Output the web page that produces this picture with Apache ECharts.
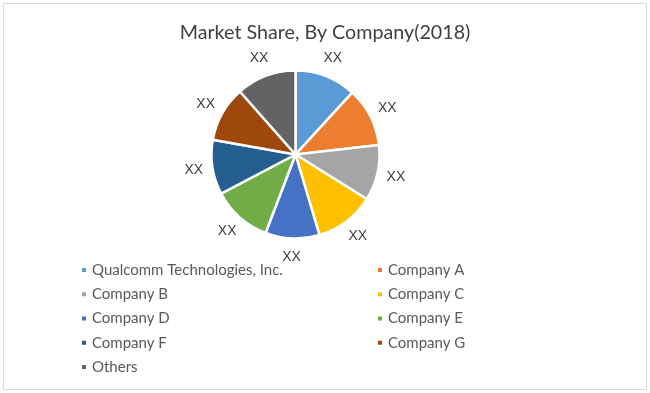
<!DOCTYPE html>
<html>
<head>
<meta charset="utf-8">
<script src="https://cdn.jsdelivr.net/npm/echarts@6/dist/echarts.min.js"></script>
<style>
  html, body { margin: 0; padding: 0; background: #fff; }
  #chart { width: 650px; height: 393px; }
</style>
</head>
<body>
<div id="chart"></div>
<script>
const titleText = 'Market Share, By Company(2018)';
const categories = ['Qualcomm Technologies, Inc.', 'Company A', 'Company B', 'Company C', 'Company D', 'Company E', 'Company F', 'Company G', 'Others'];
const shares = [11.8, 11.4, 10.7, 11.5, 10.4, 11.5, 10.5, 10.7, 11.5];
const labels = ['XX', 'XX', 'XX', 'XX', 'XX', 'XX', 'XX', 'XX', 'XX'];
const colors = ['#5B9BD5', '#ED7D31', '#A5A5A5', '#FFC000', '#4472C4', '#70AD47', '#255E91', '#9E480E', '#636363'];
const legendLeft = ['Qualcomm Technologies, Inc.', 'Company B', 'Company D', 'Company F', 'Others'];
const legendRight = ['Company A', 'Company C', 'Company E', 'Company G'];

const FONT = 'Lato';
const pieData = categories.map((c, i) => ({ name: c, value: shares[i], itemStyle: { color: colors[i] } }));
const labelData = categories.map((c, i) => ({ name: c, value: shares[i], label: { formatter: labels[i] } }));

const legendCommon = {
  orient: 'vertical',
  icon: 'rect',
  itemWidth: 6,
  itemHeight: 6,
  itemGap: 8.25,
  textStyle: { fontFamily: FONT, fontSize: 15, color: '#595959', lineHeight: 16, padding: [0, 0, 0, 0] },
  selectedMode: false,
  padding: 0
};

const chart = echarts.init(document.getElementById('chart'), null, { renderer: 'canvas' });
chart.setOption({
  animation: false,
  color: colors,
  graphic: [{
    type: 'rect',
    shape: { x: 3.5, y: 3.5, width: 643, height: 386 },
    style: { fill: 'none', stroke: '#D9D9D9', lineWidth: 1 },
    silent: true
  }],
  title: {
    text: titleText,
    left: 'center',
    top: 18,
    textStyle: { fontFamily: FONT, fontSize: 19.7, fontWeight: 'normal', color: '#404040' }
  },
  legend: [
    Object.assign({}, legendCommon, { data: legendLeft, left: 80, top: 262 }),
    Object.assign({}, legendCommon, { data: legendRight, left: 376, top: 262 })
  ],
  series: [
    {
      type: 'pie',
      center: [295.5, 154.5],
      radius: [0, 84],
      startAngle: 90,
      clockwise: true,
      silent: true,
      label: { show: false },
      labelLine: { show: false },
      itemStyle: { borderColor: '#fff', borderWidth: 2.5 },
      data: pieData
    },
    {
      type: 'pie',
      center: [295.5, 154.5],
      radius: [90, 110],
      startAngle: 90,
      clockwise: true,
      silent: true,
      itemStyle: { color: 'rgba(0,0,0,0)' },
      label: { show: true, position: 'inside', fontFamily: 'Liberation Sans', fontSize: 14, color: '#404040' },
      labelLine: { show: false },
      data: labelData
    }
  ]
});
</script>
</body>
</html>
